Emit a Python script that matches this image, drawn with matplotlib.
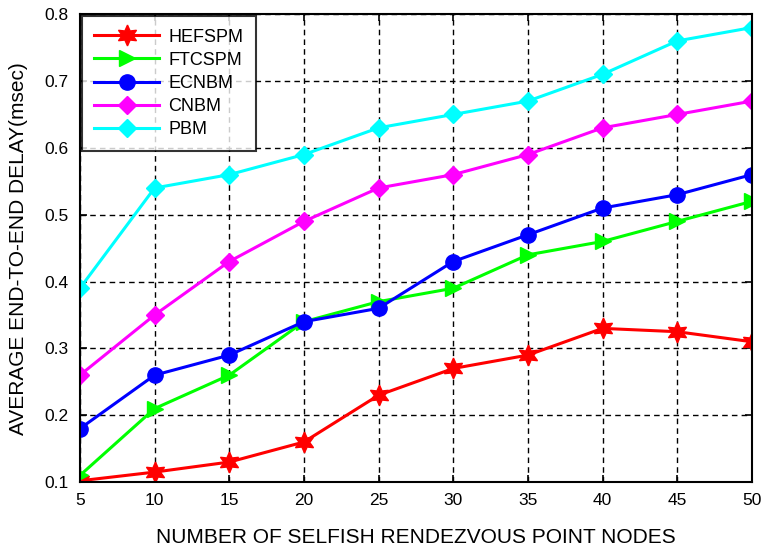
import matplotlib
matplotlib.use("Agg")
import matplotlib.pyplot as plt

plt.rcParams['font.family'] = ['Liberation Sans', 'DejaVu Sans']

x = [5, 10, 15, 20, 25, 30, 35, 40, 45, 50]
hefspm = [0.102, 0.115, 0.13, 0.16, 0.23, 0.27, 0.29, 0.33, 0.325, 0.31]
ftcspm = [0.11, 0.21, 0.26, 0.34, 0.37, 0.39, 0.44, 0.46, 0.49, 0.52]
ecnbm = [0.18, 0.26, 0.29, 0.34, 0.36, 0.43, 0.47, 0.51, 0.53, 0.56]
cnbm = [0.26, 0.35, 0.43, 0.49, 0.54, 0.56, 0.59, 0.63, 0.65, 0.67]
pbm = [0.39, 0.54, 0.56, 0.59, 0.63, 0.65, 0.67, 0.71, 0.76, 0.78]
labels = ["HEFSPM", "FTCSPM", "ECNBM", "CNBM", "PBM"]

fig = plt.figure(figsize=(7.61, 5.46), dpi=100)
ax = fig.add_axes([0.105, 0.117, 0.883, 0.857])

lw = 2.2
ax.plot(x, hefspm, color='#ff0000', lw=lw, marker=(6, 1, 0), ms=15, label=labels[0])
ax.plot(x, ftcspm, color='#00ff00', lw=lw, marker='>', ms=12, label=labels[1])
ax.plot(x, ecnbm, color='#0000ff', lw=lw, marker='o', ms=11, label=labels[2])
ax.plot(x, cnbm, color='#ff00ff', lw=lw, marker='D', ms=9, label=labels[3])
ax.plot(x, pbm, color='#00ffff', lw=lw, marker='D', ms=9, label=labels[4])

ax.set_xlim(5, 50)
ax.set_ylim(0.1, 0.8)
ax.set_xticks(x)
ax.set_yticks([0.1, 0.2, 0.3, 0.4, 0.5, 0.6, 0.7, 0.8])
ax.set_yticklabels(["0.1", "0.2", "0.3", "0.4", "0.5", "0.6", "0.7", "0.8"])
ax.grid(True, color='black', linestyle=(0, (4, 3)), linewidth=1.0)
ax.tick_params(direction='in', length=5, labelsize=12.5, width=1.2, top=True, right=True, pad=8)
for s in ax.spines.values():
    s.set_linewidth(1.5)

ax.set_xlabel("NUMBER OF SELFISH RENDEZVOUS POINT NODES", fontsize=15, labelpad=14)
ax.set_ylabel("AVERAGE END-TO-END DELAY(msec)", fontsize=15, labelpad=12)

leg = ax.legend(loc='upper left', fontsize=13, frameon=True, fancybox=False,
                edgecolor='black', borderaxespad=0.1, handlelength=3.6,
                handletextpad=0.5, labelspacing=0.34, borderpad=0.7)
leg.get_frame().set_linewidth(1.5)

fig.savefig("out.png", dpi=100)
